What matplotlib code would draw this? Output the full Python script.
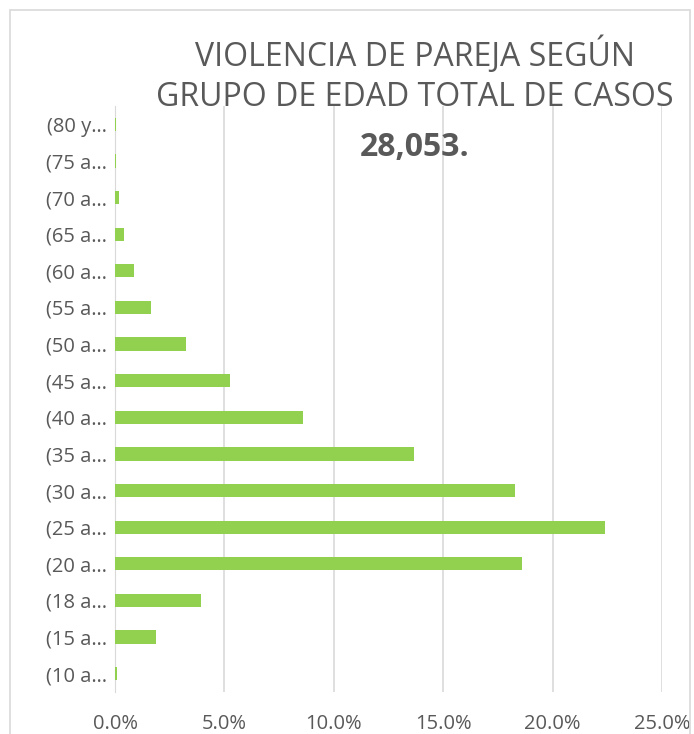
import matplotlib.pyplot as plt
from matplotlib.patches import Rectangle
from matplotlib.ticker import FuncFormatter
import numpy as np

# Data (bottom to top, as drawn)
grupos = ['(10 a…', '(15 a…', '(18 a…', '(20 a…', '(25 a…', '(30 a…', '(35 a…', '(40 a…',
          '(45 a…', '(50 a…', '(55 a…', '(60 a…', '(65 a…', '(70 a…', '(75 a…', '(80 y…']
porcentajes = [0.08, 1.87, 3.93, 18.6, 22.4, 18.3, 13.65, 8.6,
               5.25, 3.25, 1.65, 0.87, 0.41, 0.18, 0.05, 0.03]
x_ticks = [0, 5, 10, 15, 20, 25]

plt.rcParams['font.family'] = ['Open Sans', 'DejaVu Sans']
gris = '#595959'

fig = plt.figure(figsize=(6.94, 7.34), dpi=100)
ax = fig.add_axes([115/694, 1 - 692/734, (662 - 115)/694, (692 - 106)/734])

y = np.arange(len(grupos))
ax.barh(y, porcentajes, height=0.36, color='#92d050', zorder=3)

ax.set_xlim(0, 25)
ax.set_ylim(-0.5, len(grupos) - 0.5)
ax.set_xticks(x_ticks)
ax.xaxis.set_major_formatter(FuncFormatter(lambda v, p: f'{v:.1f}%'))
ax.set_yticks(y)
ax.set_yticklabels(grupos)
ax.tick_params(axis='both', length=0, labelsize=14.5, colors=gris)
ax.tick_params(axis='x', pad=16)
ax.tick_params(axis='y', pad=6)

ax.grid(axis='x', color='#d9d9d9', linewidth=1.2, zorder=0)
for s in ['top', 'right', 'bottom']:
    ax.spines[s].set_visible(False)
ax.spines['left'].set_color('#d9d9d9')

# Title
fig.text(415/694, 1 - 55/734, 'VIOLENCIA DE PAREJA SEGÚN', ha='center', va='center',
         fontsize=23, color=gris)
fig.text(415/694, 1 - 97/734, 'GRUPO DE EDAD TOTAL DE CASOS', ha='center', va='center',
         fontsize=23, color=gris)
fig.text(415/694, 1 - 147/734, '28,053.', ha='center', va='center',
         fontsize=23, fontweight='bold', color=gris)

# Chart frame
fig.patches.append(Rectangle((10/694, -0.05), 680/694, 1 - 10/734 + 0.05,
                             transform=fig.transFigure, fill=False,
                             edgecolor='#d9d9d9', linewidth=1.2))

plt.savefig('out.png', dpi=100)
